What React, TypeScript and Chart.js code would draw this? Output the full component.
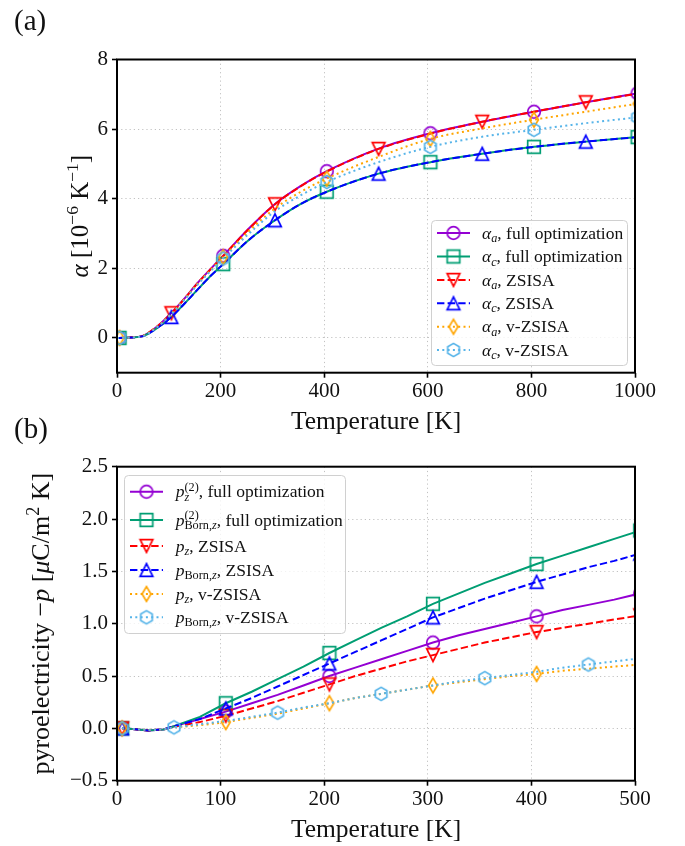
import React, { useEffect, useRef } from 'react';
import { Chart, registerables } from 'chart.js';

Chart.register(...registerables);

const SERIF = "'Liberation Serif', 'Times New Roman', serif";
const INK = '#111111';

// colours
const C_PURPLE = '#9400d3';
const C_GREEN = '#009e73';
const C_RED = '#ff0000';
const C_BLUE = '#0000ff';
const C_ORANGE = '#ffa500';
const C_SKY = '#56b4e9';

const SOLID: number[] = [];
const DASHED = [7.4, 3.2];
const DOTTED = [2, 3.3];

// ---------------- Panel (a): thermal expansion coefficients ----------------
const tempA = [0, 5, 25, 50, 75, 105, 130, 155, 180, 205, 255, 305, 355, 405, 505, 605, 705, 805, 905, 1005];
const alphaAFull = [0, 0, 0.01, 0.06, 0.3, 0.72, 1.13, 1.57, 1.97, 2.36, 3.15, 3.85, 4.37, 4.79, 5.44, 5.88, 6.21, 6.5, 6.77, 7.03];
const alphaCFull = [0, 0, 0.01, 0.05, 0.26, 0.6, 0.98, 1.38, 1.77, 2.12, 2.82, 3.38, 3.85, 4.2, 4.72, 5.05, 5.29, 5.49, 5.64, 5.77];
const alphaAZsisa = [0, 0, 0.01, 0.06, 0.3, 0.71, 1.12, 1.56, 1.96, 2.35, 3.14, 3.84, 4.36, 4.78, 5.43, 5.87, 6.21, 6.5, 6.77, 7.02];
const alphaCZsisa = [0, 0, 0.01, 0.05, 0.26, 0.6, 0.98, 1.38, 1.77, 2.12, 2.82, 3.38, 3.85, 4.2, 4.72, 5.05, 5.29, 5.49, 5.64, 5.77];
const alphaAVz = [0, 0, 0.01, 0.06, 0.29, 0.7, 1.11, 1.55, 1.94, 2.32, 3.07, 3.72, 4.2, 4.58, 5.2, 5.72, 6.02, 6.27, 6.5, 6.73];
const alphaCVz = [0, 0, 0.01, 0.05, 0.28, 0.68, 1.09, 1.52, 1.91, 2.28, 3.0, 3.64, 4.1, 4.48, 5.05, 5.49, 5.78, 5.98, 6.17, 6.34];
const marksA1 = [5, 205, 405, 605, 805, 1005];
const marksA2 = [105, 305, 505, 705, 905];
const xTicksA = [0, 200, 400, 600, 800, 1000];
const yTicksA = [0, 2, 4, 6, 8];

// ---------------- Panel (b): pyroelectric coefficients ----------------
const tempB = [5, 15, 30, 45, 55, 80, 105, 130, 155, 180, 205, 230, 255, 280, 305, 330, 355, 380, 405, 430, 455, 480, 505];
const pzFull = [0, -0.005, -0.02, -0.01, 0.02, 0.09, 0.16, 0.24, 0.32, 0.41, 0.5, 0.58, 0.66, 0.74, 0.82, 0.89, 0.95, 1.01, 1.07, 1.13, 1.18, 1.23, 1.29];
const pBornFull = [0, -0.005, -0.02, -0.01, 0.02, 0.11, 0.24, 0.35, 0.47, 0.59, 0.72, 0.84, 0.96, 1.07, 1.19, 1.29, 1.39, 1.48, 1.57, 1.65, 1.73, 1.81, 1.89];
const pzZsisa = [0, -0.005, -0.02, -0.01, 0.015, 0.06, 0.12, 0.19, 0.26, 0.34, 0.42, 0.5, 0.57, 0.64, 0.7, 0.76, 0.82, 0.87, 0.92, 0.96, 1.0, 1.04, 1.08];
const pBornZsisa = [0, -0.005, -0.02, -0.01, 0.02, 0.09, 0.19, 0.29, 0.4, 0.51, 0.62, 0.73, 0.84, 0.95, 1.06, 1.15, 1.24, 1.32, 1.4, 1.47, 1.54, 1.6, 1.67];
const pzVz = [0, -0.005, -0.015, -0.01, 0.01, 0.03, 0.06, 0.1, 0.14, 0.19, 0.24, 0.29, 0.33, 0.37, 0.41, 0.44, 0.47, 0.5, 0.52, 0.55, 0.57, 0.59, 0.61];
const pBornVz = [0, -0.005, -0.015, -0.01, 0.01, 0.04, 0.07, 0.11, 0.15, 0.2, 0.24, 0.29, 0.33, 0.37, 0.41, 0.45, 0.48, 0.51, 0.54, 0.58, 0.61, 0.64, 0.67];
const marksB1 = [5, 105, 205, 305, 405, 505];
const marksB2 = [5, 55, 155, 255, 355, 455];
const xTicksB = [0, 100, 200, 300, 400, 500];
const yTicksB = [-0.5, 0, 0.5, 1, 1.5, 2, 2.5];

// ---------------- rich text ----------------
type Run = { t: string; it?: boolean; k?: 'sub' | 'sup' };
type Stack = { sub: Run[]; sup: Run[] };
type Seg = Run | Stack;

const legendLabelsA: Seg[][] = [
  [{ t: 'α', it: true }, { t: 'a', it: true, k: 'sub' }, { t: ', full optimization' }],
  [{ t: 'α', it: true }, { t: 'c', it: true, k: 'sub' }, { t: ', full optimization' }],
  [{ t: 'α', it: true }, { t: 'a', it: true, k: 'sub' }, { t: ', ZSISA' }],
  [{ t: 'α', it: true }, { t: 'c', it: true, k: 'sub' }, { t: ', ZSISA' }],
  [{ t: 'α', it: true }, { t: 'a', it: true, k: 'sub' }, { t: ', v-ZSISA' }],
  [{ t: 'α', it: true }, { t: 'c', it: true, k: 'sub' }, { t: ', v-ZSISA' }],
];
const legendLabelsB: Seg[][] = [
  [{ t: 'p', it: true }, { sub: [{ t: 'z', it: true }], sup: [{ t: '(2)' }] }, { t: ', full optimization' }],
  [{ t: 'p', it: true }, { sub: [{ t: 'Born,' }, { t: 'z', it: true }], sup: [{ t: '(2)' }] }, { t: ', full optimization' }],
  [{ t: 'p', it: true }, { t: 'z', it: true, k: 'sub' }, { t: ', ZSISA' }],
  [{ t: 'p', it: true }, { t: 'Born,', k: 'sub' }, { t: 'z', it: true, k: 'sub' }, { t: ', ZSISA' }],
  [{ t: 'p', it: true }, { t: 'z', it: true, k: 'sub' }, { t: ', v-ZSISA' }],
  [{ t: 'p', it: true }, { t: 'Born,', k: 'sub' }, { t: 'z', it: true, k: 'sub' }, { t: ', v-ZSISA' }],
];
const yTitleA: Seg[] = [{ t: 'α', it: true }, { t: ' [10' }, { t: '−6', k: 'sup' }, { t: ' K' }, { t: '−1', k: 'sup' }, { t: ']' }];
const yTitleB: Seg[] = [{ t: 'pyroelectricity −' }, { t: 'p', it: true }, { t: ' [' }, { t: 'μ', it: true }, { t: 'C/m' }, { t: '2', k: 'sup' }, { t: ' K]' }];
const xTitle: Seg[] = [{ t: 'Temperature [K]' }];

const SCRIPT = 0.7;
const fontFor = (size: number, it?: boolean) => `${it ? 'italic ' : ''}${size}px ${SERIF}`;

function drawRun(ctx: CanvasRenderingContext2D, r: Run, x: number, y: number, size: number, draw: boolean) {
  const sz = r.k ? size * SCRIPT : size;
  ctx.font = fontFor(sz, r.it);
  const dy = r.k === 'sub' ? size * 0.2 : r.k === 'sup' ? -size * 0.38 : 0;
  if (draw) ctx.fillText(r.t, x, y + dy);
  return ctx.measureText(r.t).width;
}
function drawRich(ctx: CanvasRenderingContext2D, segs: Seg[], x: number, y: number, size: number, draw = true) {
  let cx = x;
  for (const s of segs) {
    if ('t' in s) cx += drawRun(ctx, s, cx, y, size, draw);
    else {
      let a = cx;
      for (const r of s.sub) a += drawRun(ctx, { ...r, k: 'sub' }, a, y, size, draw);
      let b = cx;
      for (const r of s.sup) b += drawRun(ctx, { ...r, k: 'sup' }, b, y, size, draw);
      cx = Math.max(a, b);
    }
  }
  return cx - x;
}

// ---------------- markers ----------------
type Shape = 'circle' | 'square' | 'triDown' | 'triUp' | 'thinDiamond' | 'hexagon';
function markerCanvas(shape: Shape, color: string): HTMLCanvasElement {
  const n = 22;
  const c = document.createElement('canvas');
  c.width = n;
  c.height = n;
  const g = c.getContext('2d')!;
  const m = n / 2;
  const h = 6.3;
  g.strokeStyle = color;
  g.lineWidth = 1.7;
  g.beginPath();
  if (shape === 'circle') g.arc(m, m, h, 0, Math.PI * 2);
  else if (shape === 'square') g.rect(m - h, m - h, 2 * h, 2 * h);
  else {
    let pts: number[][] = [];
    if (shape === 'triUp') pts = [[0, -h], [h, h], [-h, h]];
    if (shape === 'triDown') pts = [[0, h], [h, -h], [-h, -h]];
    if (shape === 'thinDiamond') pts = [[0, -h * 1.17], [h * 0.7, 0], [0, h * 1.17], [-h * 0.7, 0]];
    if (shape === 'hexagon')
      pts = Array.from({ length: 6 }, (_, i) => {
        const a = -Math.PI / 2 + (i * Math.PI) / 3;
        return [h * 1.05 * Math.cos(a), h * 1.05 * Math.sin(a)];
      });
    pts.forEach(([x, y], i) => (i ? g.lineTo(m + x, m + y) : g.moveTo(m + x, m + y)));
    g.closePath();
  }
  g.stroke();
  return c;
}

// ---------------- panels ----------------
interface Series {
  values: number[];
  color: string;
  dash: number[];
  shape: Shape;
  marks: number[];
}
interface Panel {
  temps: number[];
  series: Series[];
  legend: Seg[][];
  smooth: boolean;
  xMin: number; xMax: number; yMin: number; yMax: number;
  xTicks: number[]; yTicks: number[];
  yFmt: (v: number) => string;
  top: number; height: number; areaTop: number; areaBottom: number;
  label: string; labelBaseline: number;
  yTitle: Seg[]; yTitleSize: number; yTitleBaseX: number;
  xTitleSize: number;
  legendBox: number[]; legendRows: number[]; legendLine: number[]; legendTextX: number; legendSize: number;
}

const panelA: Panel = {
  temps: tempA,
  series: [
    { values: alphaAFull, color: C_PURPLE, dash: SOLID, shape: 'circle', marks: marksA1 },
    { values: alphaCFull, color: C_GREEN, dash: SOLID, shape: 'square', marks: marksA1 },
    { values: alphaAZsisa, color: C_RED, dash: DASHED, shape: 'triDown', marks: marksA2 },
    { values: alphaCZsisa, color: C_BLUE, dash: DASHED, shape: 'triUp', marks: marksA2 },
    { values: alphaAVz, color: C_ORANGE, dash: DOTTED, shape: 'thinDiamond', marks: marksA1 },
    { values: alphaCVz, color: C_SKY, dash: DOTTED, shape: 'hexagon', marks: marksA1 },
  ],
  legend: legendLabelsA,
  smooth: true,
  xMin: 0, xMax: 1000, yMin: -1, yMax: 8,
  xTicks: xTicksA, yTicks: yTicksA,
  yFmt: (v) => String(v),
  top: 0, height: 440, areaTop: 59.5, areaBottom: 372.7,
  label: '(a)', labelBaseline: 30,
  yTitle: yTitleA, yTitleSize: 25, yTitleBaseX: 87.5,
  xTitleSize: 25.5,
  legendBox: [431, 220, 196, 145],
  legendRows: [233, 256.5, 280, 303.3, 326.7, 350],
  legendLine: [437, 470], legendTextX: 482, legendSize: 17.5,
};

const panelB: Panel = {
  temps: tempB,
  series: [
    { values: pzFull, color: C_PURPLE, dash: SOLID, shape: 'circle', marks: marksB1 },
    { values: pBornFull, color: C_GREEN, dash: SOLID, shape: 'square', marks: marksB1 },
    { values: pzZsisa, color: C_RED, dash: DASHED, shape: 'triDown', marks: marksB1 },
    { values: pBornZsisa, color: C_BLUE, dash: DASHED, shape: 'triUp', marks: marksB1 },
    { values: pzVz, color: C_ORANGE, dash: DOTTED, shape: 'thinDiamond', marks: marksB1 },
    { values: pBornVz, color: C_SKY, dash: DOTTED, shape: 'hexagon', marks: marksB2 },
  ],
  legend: legendLabelsB,
  smooth: false,
  xMin: 0, xMax: 500, yMin: -0.5, yMax: 2.5,
  xTicks: xTicksB, yTicks: yTicksB,
  yFmt: (v) => v.toFixed(1).replace('-', '−'),
  top: 405, height: 441, areaTop: 61.7, areaBottom: 375.7,
  label: '(b)', labelBaseline: 33,
  yTitle: yTitleB, yTitleSize: 26, yTitleBaseX: 48.5,
  xTitleSize: 25.5,
  legendBox: [124, 70, 221, 158],
  legendRows: [86.7, 115, 141, 165, 189, 212.3],
  legendLine: [130, 163], legendTextX: 175.7, legendSize: 17.5,
};

const W = 685;
const AREA_LEFT = 117;
const AREA_RIGHT = 635;

function buildConfig(p: Panel): any {
  const markers = p.series.map((s) => markerCanvas(s.shape, s.color));
  const tickFont = { family: SERIF, size: 21 };
  const decor = {
    id: 'decor',
    afterDatasetsDraw(chart: any) {
      const ctx: CanvasRenderingContext2D = chart.ctx;
      const a = chart.chartArea;
      ctx.save();
      // axes frame
      ctx.setLineDash([]);
      ctx.strokeStyle = '#000';
      ctx.lineWidth = 2;
      ctx.strokeRect(a.left, a.top, a.right - a.left, a.bottom - a.top);
      // legend
      const [bx, by, bw, bh] = p.legendBox;
      ctx.beginPath();
      (ctx as any).roundRect(bx + 0.5, by + 0.5, bw, bh, 4);
      ctx.fillStyle = 'rgba(255,255,255,0.8)';
      ctx.fill();
      ctx.strokeStyle = '#d0d0d0';
      ctx.lineWidth = 1;
      ctx.stroke();
      ctx.textAlign = 'left';
      ctx.textBaseline = 'alphabetic';
      p.series.forEach((s, i) => {
        const y = p.legendRows[i];
        const [x0, x1] = p.legendLine;
        ctx.setLineDash(s.dash);
        ctx.strokeStyle = s.color;
        ctx.lineWidth = 2;
        ctx.beginPath();
        ctx.moveTo(x0, y);
        ctx.lineTo(x1, y);
        ctx.stroke();
        ctx.setLineDash([]);
        const mk = markers[i];
        ctx.drawImage(mk, (x0 + x1) / 2 - mk.width / 2, y - mk.height / 2);
        ctx.fillStyle = INK;
        drawRich(ctx, p.legend[i], p.legendTextX, y + 5.5, p.legendSize);
      });
      // panel label
      ctx.fillStyle = INK;
      ctx.font = fontFor(29);
      ctx.fillText(p.label, 14, p.labelBaseline);
      // x title
      const xs = p.xTitleSize;
      const xw = drawRich(ctx, xTitle, 0, 0, xs, false);
      drawRich(ctx, xTitle, (a.left + a.right) / 2 - xw / 2, a.bottom + 56, xs);
      // y title
      const ys = p.yTitleSize;
      const yw = drawRich(ctx, p.yTitle, 0, 0, ys, false);
      ctx.translate(p.yTitleBaseX, (a.top + a.bottom) / 2);
      ctx.rotate(-Math.PI / 2);
      drawRich(ctx, p.yTitle, -yw / 2, 0, ys);
      ctx.restore();
    },
  };
  const n = p.series.length;
  return {
    type: 'line',
    data: {
      datasets: p.series.map((s, i) => ({
        data: p.temps.map((t, j) => ({ x: t, y: s.values[j] })),
        borderColor: s.color,
        borderWidth: 2,
        borderDash: s.dash,
        fill: false,
        clip: 0,
        order: n - i,
        tension: 0,
        cubicInterpolationMode: p.smooth ? 'monotone' : 'default',
        pointStyle: markers[i],
        pointRadius: (c: any) => (s.marks.includes(p.temps[c.dataIndex]) ? 7 : 0),
        pointHoverRadius: 0,
        pointBorderWidth: 0,
        pointBackgroundColor: 'transparent',
      })),
    },
    options: {
      responsive: false,
      maintainAspectRatio: false,
      devicePixelRatio: 1,
      animation: false,
      events: [],
      layout: { padding: { top: p.areaTop, right: W - AREA_RIGHT, left: 0, bottom: 0 } },
      plugins: { legend: { display: false }, tooltip: { enabled: false }, title: { display: false } },
      scales: {
        x: {
          type: 'linear',
          min: p.xMin,
          max: p.xMax,
          afterBuildTicks: (sc: any) => {
            sc.ticks = p.xTicks.map((v) => ({ value: v }));
          },
          afterFit: (sc: any) => {
            sc.height = p.height - p.areaBottom;
          },
          grid: { color: 'rgba(170,170,170,0.9)', lineWidth: 0.8, tickColor: '#000', tickLength: 5, tickWidth: 1.6 },
          border: { display: false, dash: [1.2, 3] },
          ticks: { font: tickFont, color: INK, padding: 1, maxRotation: 0, autoSkip: false, callback: (v: number) => String(v) },
        },
        y: {
          type: 'linear',
          min: p.yMin,
          max: p.yMax,
          afterBuildTicks: (sc: any) => {
            sc.ticks = p.yTicks.map((v) => ({ value: v }));
          },
          afterFit: (sc: any) => {
            sc.width = AREA_LEFT;
          },
          grid: { color: 'rgba(170,170,170,0.9)', lineWidth: 0.8, tickColor: '#000', tickLength: 5, tickWidth: 1.6 },
          border: { display: false, dash: [1.2, 3] },
          ticks: { font: tickFont, color: INK, padding: 4, autoSkip: false, callback: (v: number) => p.yFmt(v) },
        },
      },
    },
    plugins: [decor],
  };
}

function PanelChart({ panel }: { panel: Panel }) {
  const ref = useRef<HTMLCanvasElement>(null);
  useEffect(() => {
    const chart = new Chart(ref.current!, buildConfig(panel));
    return () => chart.destroy();
  }, [panel]);
  return (
    <canvas
      ref={ref}
      width={W}
      height={panel.height}
      style={{ position: 'absolute', left: 0, top: panel.top, width: W, height: panel.height }}
    />
  );
}

export default function App() {
  return (
    <div style={{ position: 'absolute', left: 0, top: 0, width: W, height: 846, background: '#fff', overflow: 'hidden' }}>
      <PanelChart panel={panelA} />
      <PanelChart panel={panelB} />
    </div>
  );
}
